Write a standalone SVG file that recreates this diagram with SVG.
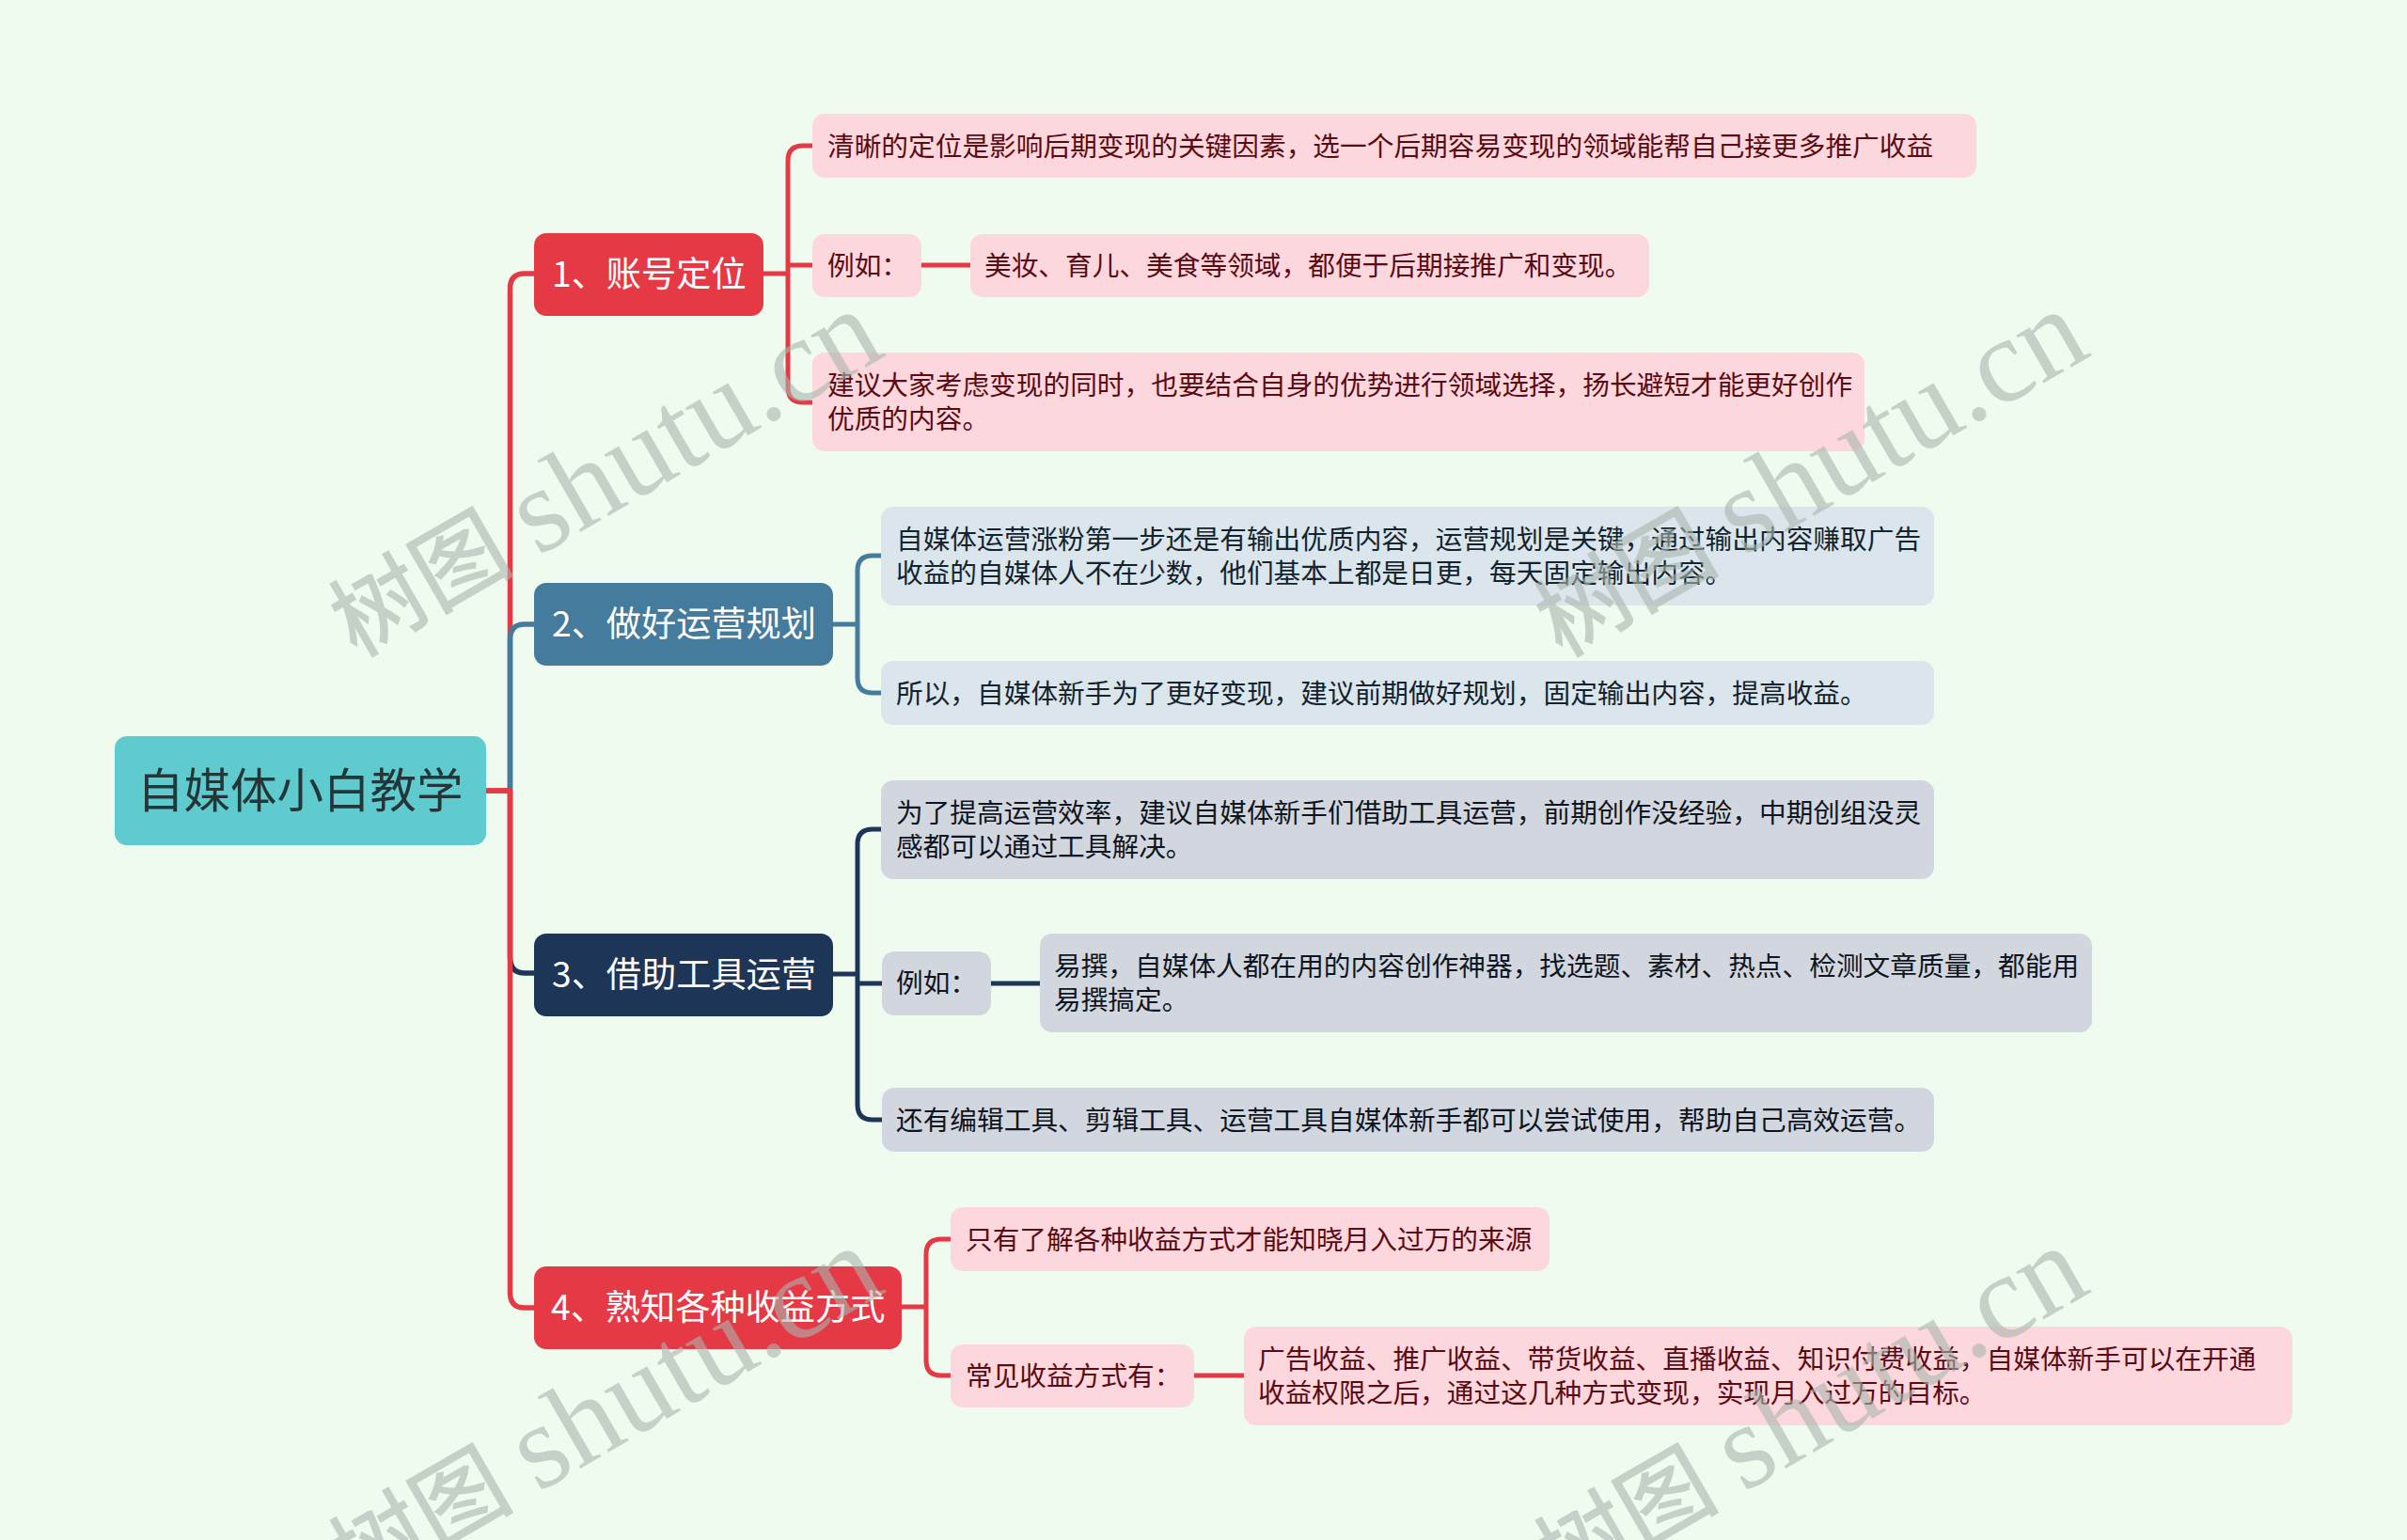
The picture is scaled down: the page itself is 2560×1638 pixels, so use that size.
<svg xmlns="http://www.w3.org/2000/svg" width="2560" height="1638" viewBox="0 0 2560 1638">
<style>
text{font-family:"Noto Sans CJK SC","Noto Sans",sans-serif}
.l{font-size:28.7px}
.t{font-size:37.2px;fill:#fff}
.r{font-size:49.5px;fill:#253638}
.p rect{fill:#fcd7dd}.p text{fill:#5c0a12}
.b rect{fill:#dae5ec}.b text{fill:#14232d}
.n rect{fill:#d2d7df}.n text{fill:#0e1520}
.c{fill:none;stroke-width:5;stroke-linejoin:round}
.trunk{stroke-width:5.5}
.red{stroke:#e63946}.blue{stroke:#457b9d}.navy{stroke:#1d3557}
.w{font-family:"Liberation Serif","Noto Sans CJK SC",serif;font-size:128px;fill:#a9b5ad;fill-opacity:.6}
.w .z{font-family:"Noto Sans CJK SC",serif;font-size:98px;font-weight:500}
</style>
<rect width="2560" height="1638" fill="#f0fbef"/>
<g id="connectors">
<path class="c trunk red" d="M517 841H542.500V307Q542.500 291 558 291H569"/>
<path class="c trunk blue" d="M542.500 841V680Q542.500 664 558 664H569"/>
<path class="c trunk navy" d="M542.500 841V1018Q542.500 1035 558 1035H569"/>
<path class="c trunk red" d="M517 841H542.500V1375Q542.500 1391 558 1391H569"/>
<path class="c red" d="M812 291H838M864 155H854Q838 155 838 171V412Q838 428 854 428H864M838 282H864"/>
<path class="c red" d="M980 282H1032"/>
<path class="c blue" d="M886 664H912M937 591H928Q912 591 912 607V721Q912 737 928 737H937"/>
<path class="c navy" d="M886 1036H912M938 882H928Q912 882 912 898V1175Q912 1191 928 1191H938M912 1046H938"/>
<path class="c navy" d="M1053 1046H1106"/>
<path class="c red" d="M959 1390H985M1012 1318H1001Q985 1318 985 1334V1447Q985 1463 1001 1463H1012"/>
<path class="c red" d="M1270 1463H1323"/>
</g>
<g id="root"><rect x="122" y="783" width="395" height="116" rx="13" fill="#5fcbce"/><text class="r" x="146" y="859">自媒体小白教学</text></g>
<g id="topic1"><rect x="568" y="248" width="244" height="88" rx="13" fill="#e63946"/><text class="t" x="587" y="305">1、账号定位</text></g>
<g id="topic2"><rect x="568" y="620" width="318" height="88" rx="13" fill="#457b9d"/><text class="t" x="587" y="677">2、做好运营规划</text></g>
<g id="topic3"><rect x="568" y="993" width="318" height="88" rx="13" fill="#1d3557"/><text class="t" x="587" y="1050">3、借助工具运营</text></g>
<g id="topic4"><rect x="568" y="1347" width="391" height="88" rx="13" fill="#e63946"/><text class="t" x="586" y="1404">4、熟知各种收益方式</text></g>
<g id="n1-1" class="p"><rect x="864" y="121" width="1238" height="68" rx="13"/><text class="l" x="880" y="166">清晰的定位是影响后期变现的关键因素&#xFF0C;选一个后期容易变现的领域能帮自己接更多推广收益</text></g>
<g id="n1-2" class="p"><rect x="864" y="249" width="116" height="67" rx="13"/><text class="l" x="880" y="293">例如&#xFF1A;</text></g>
<g id="n1-2-1" class="p"><rect x="1032" y="249" width="722" height="67" rx="13"/><text class="l" x="1047" y="293">美妆、育儿、美食等领域&#xFF0C;都便于后期接推广和变现。</text></g>
<g id="n1-3" class="p"><rect x="864" y="375" width="1119" height="105" rx="13"/><text class="l" x="880" y="420">建议大家考虑变现的同时&#xFF0C;也要结合自身的优势进行领域选择&#xFF0C;扬长避短才能更好创作</text><text class="l" x="880" y="456">优质的内容。</text></g>
<g id="n2-1" class="b"><rect x="937" y="539" width="1120" height="105" rx="13"/><text class="l" x="953" y="584">自媒体运营涨粉第一步还是有输出优质内容&#xFF0C;运营规划是关键&#xFF0C;通过输出内容赚取广告</text><text class="l" x="953" y="620">收益的自媒体人不在少数&#xFF0C;他们基本上都是日更&#xFF0C;每天固定输出内容。</text></g>
<g id="n2-2" class="b"><rect x="937" y="703" width="1120" height="68" rx="13"/><text class="l" x="953" y="748">所以&#xFF0C;自媒体新手为了更好变现&#xFF0C;建议前期做好规划&#xFF0C;固定输出内容&#xFF0C;提高收益。</text></g>
<g id="n3-1" class="n"><rect x="937" y="830" width="1120" height="105" rx="13"/><text class="l" x="953" y="875">为了提高运营效率&#xFF0C;建议自媒体新手们借助工具运营&#xFF0C;前期创作没经验&#xFF0C;中期创组没灵</text><text class="l" x="953" y="911">感都可以通过工具解决。</text></g>
<g id="n3-2" class="n"><rect x="938" y="1012" width="116" height="68" rx="13"/><text class="l" x="953" y="1056">例如&#xFF1A;</text></g>
<g id="n3-2-1" class="n"><rect x="1106" y="993" width="1119" height="105" rx="13"/><text class="l" x="1121" y="1038">易撰&#xFF0C;自媒体人都在用的内容创作神器&#xFF0C;找选题、素材、热点、检测文章质量&#xFF0C;都能用</text><text class="l" x="1121" y="1074">易撰搞定。</text></g>
<g id="n3-3" class="n"><rect x="938" y="1157" width="1119" height="68" rx="13"/><text class="l" x="953" y="1202">还有编辑工具、剪辑工具、运营工具自媒体新手都可以尝试使用&#xFF0C;帮助自己高效运营。</text></g>
<g id="n4-1" class="p"><rect x="1011" y="1284" width="637" height="68" rx="13"/><text class="l" x="1027" y="1329">只有了解各种收益方式才能知晓月入过万的来源</text></g>
<g id="n4-2" class="p"><rect x="1011" y="1430" width="259" height="67" rx="13"/><text class="l" x="1027" y="1474">常见收益方式有&#xFF1A;</text></g>
<g id="n4-2-1" class="p"><rect x="1323" y="1411" width="1115" height="105" rx="13"/><text class="l" x="1338" y="1456">广告收益、推广收益、带货收益、直播收益、知识付费收益&#xFF0C;自媒体新手可以在开通</text><text class="l" x="1338" y="1492">收益权限之后&#xFF0C;通过这几种方式变现&#xFF0C;实现月入过万的目标。</text></g>
<g id="watermarks">
<text class="w" transform="translate(379 700) rotate(-30)"><tspan class="z">树图</tspan><tspan x="221" y="3">shutu.cn</tspan></text>
<text class="w" transform="translate(1661 700) rotate(-30)"><tspan class="z">树图</tspan><tspan x="221" y="3">shutu.cn</tspan></text>
<text class="w" transform="translate(379 1696) rotate(-30)"><tspan class="z">树图</tspan><tspan x="221" y="3">shutu.cn</tspan></text>
<text class="w" transform="translate(1661 1696) rotate(-30)"><tspan class="z">树图</tspan><tspan x="221" y="3">shutu.cn</tspan></text>
</g>
</svg>
